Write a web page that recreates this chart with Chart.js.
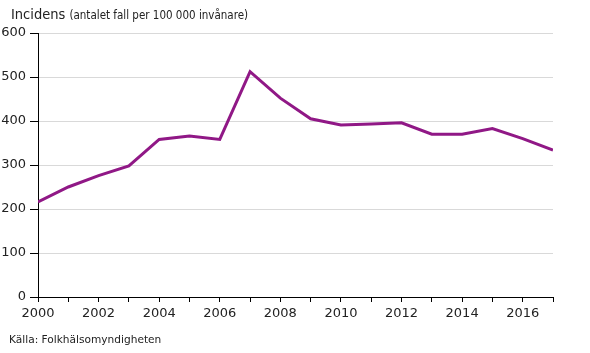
<!DOCTYPE html>
<html>
<head>
<meta charset="utf-8">
<script src="https://cdn.jsdelivr.net/npm/chart.js@4/dist/chart.umd.min.js"></script>
<style>
  body { margin: 0; background: #fff; }
  #wrap { position: relative; width: 590px; height: 353px; font-family: "DejaVu Sans", Verdana, sans-serif; color: #222; }
  #title { position: absolute; left: 11px; top: 6px; font-size: 14.5px; white-space: nowrap; font-family: "DejaVu Sans Condensed", "DejaVu Sans", sans-serif; }
  #title small { font-size: 11.5px; }
  #source { position: absolute; left: 9px; top: 333px; font-size: 10.6px; white-space: nowrap; }
  canvas { position: absolute; left: 0; top: 0; }
</style>
</head>
<body>
<div id="wrap">
  <canvas id="chart" width="590" height="353"></canvas>
  <div id="title">Incidens <small>(antalet fall per 100 000 invånare)</small></div>
  <div id="source">Källa: Folkhälsomyndigheten</div>
</div>
<script>
var years = [2000, 2001, 2002, 2003, 2004, 2005, 2006, 2007, 2008, 2009,
             2010, 2011, 2012, 2013, 2014, 2015, 2016, 2017];
var incidens = [216, 250, 276, 298, 358, 366, 358, 512, 452, 405,
                391, 393, 396, 370, 370, 383, 360, 334];
var yTicks = [0, 100, 200, 300, 400, 500, 600];

var points = [];
for (var i = 0; i < years.length; i++) {
  points.push({ x: years[i], y: incidens[i] });
}

var ctx = document.getElementById('chart').getContext('2d');
var myChart = new Chart(ctx, {
  type: 'line',
  data: {
    datasets: [{
      label: 'Incidens',
      data: points,
      borderColor: '#901886',
      borderWidth: 3,
      pointRadius: 0,
      tension: 0,
      fill: false
    }]
  },
  options: {
    responsive: false,
    animation: false,
    layout: { padding: { top: 33, right: 37, bottom: 0, left: 0 } },
    plugins: { legend: { display: false }, tooltip: { enabled: false } },
    scales: {
      x: {
        type: 'linear',
        min: 2000,
        max: 2017,
        afterFit: function (scale) { scale.height = 56; },
        afterBuildTicks: function (scale) {
          scale.ticks = years.map(function (y) { return { value: y }; });
        },
        ticks: {
          autoSkip: false,
          maxRotation: 0,
          padding: 4,
          color: '#222',
          font: { family: 'DejaVu Sans', size: 13 },
          callback: function (v) { return (v % 2 === 0 && v < 2017) ? String(v) : ''; }
        },
        grid: { drawOnChartArea: false, drawTicks: true, tickLength: 5, tickColor: '#000' },
        border: { color: '#000', width: 1 }
      },
      y: {
        min: 0,
        max: 600,
        afterFit: function (scale) { scale.width = 38; },
        afterBuildTicks: function (scale) {
          scale.ticks = yTicks.map(function (v) { return { value: v }; });
        },
        ticks: {
          padding: 4,
          color: '#222',
          font: { family: 'DejaVu Sans', size: 13 }
        },
        grid: { color: '#d9d9d9', tickColor: '#000', tickLength: 8 },
        border: { color: '#000', width: 1 }
      }
    }
  }
});
</script>
</body>
</html>
